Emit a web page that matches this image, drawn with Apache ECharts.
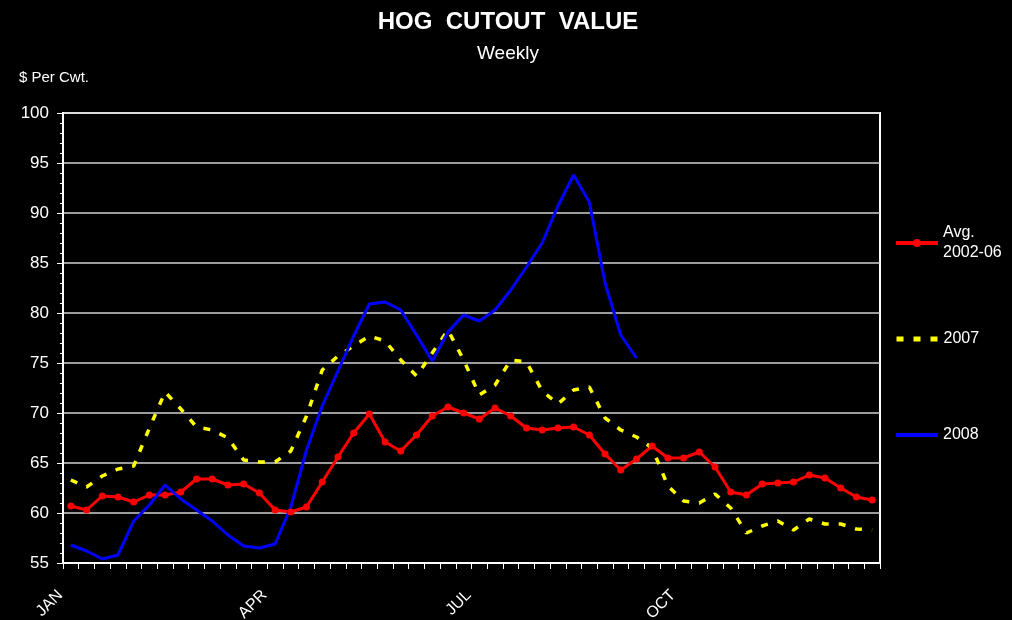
<!DOCTYPE html>
<html>
<head>
<meta charset="utf-8">
<script src="https://cdn.jsdelivr.net/npm/echarts@6/dist/echarts.min.js"></script>
<style>
  html, body { margin: 0; padding: 0; background: #000; }
  #hogChart { width: 1012px; height: 620px; }
</style>
</head>
<body>
<div id="hogChart"></div>
<script>
// month tick labels and the week they sit on
var monthLabels = ['JAN', 'APR', 'JUL', 'OCT'];
var monthWeeks = [1, 14, 27, 40];
var weekCount = 52;

// $ per cwt, weekly
var avg0206 = [60.7, 60.3, 61.7, 61.6, 61.1, 61.8, 61.8, 62.1, 63.4, 63.4,
               62.8, 62.9, 62.0, 60.3, 60.1, 60.6, 63.1, 65.6, 68.0, 69.9,
               67.1, 66.2, 67.8, 69.7, 70.6, 70.0, 69.4, 70.5, 69.7, 68.5,
               68.3, 68.5, 68.6, 67.8, 65.9, 64.3, 65.4, 66.7, 65.5, 65.5,
               66.1, 64.6, 62.1, 61.8, 62.9, 63.0, 63.1, 63.8, 63.5, 62.5,
               61.6, 61.3];
var y2007 = [63.3, 62.6, 63.7, 64.4, 64.7, 68.5, 72.1, 70.4, 68.6, 68.3,
             67.5, 65.3, 65.1, 65.1, 66.2, 69.7, 74.3, 75.7, 76.7, 77.7,
             77.2, 75.3, 73.7, 76.0, 78.3, 75.3, 71.8, 72.8, 75.3, 75.1,
             72.2, 70.9, 72.3, 72.6, 69.5, 68.3, 67.6, 66.5, 62.7, 61.2,
             61.0, 61.9, 60.5, 58.0, 58.7, 59.2, 58.3, 59.4, 58.9, 58.9,
             58.4, 58.3];
var y2008 = [56.8, 56.2, 55.4, 55.8, 59.2, 60.8, 62.8, 61.4, 60.3, 59.2,
             57.8, 56.7, 56.5, 56.9, 60.6, 66.3, 70.7, 74.2, 77.7, 80.9,
             81.1, 80.3, 77.8, 75.2, 78.1, 79.8, 79.2, 80.3, 82.3, 84.6,
             87.0, 90.7, 93.8, 91.1, 83.0, 77.8, 75.5];

var weeks = [];
for (var i = 1; i <= weekCount; i++) weeks.push(i);

var font = 'Liberation Sans, Arial, sans-serif';
var myChart = echarts.init(document.getElementById('hogChart'));

// legend symbol hidden for the plain lines
var noMarker = { color: 'rgba(0,0,0,0)', borderWidth: 0 };

var option = {
    backgroundColor: '#000',
    animation: false,
    title: [
        {
            text: 'HOG  CUTOUT  VALUE',
            left: 503, top: 5, textAlign: 'center',
            textStyle: { color: '#fff', fontSize: 24, fontWeight: 'bold', fontFamily: font }
        },
        {
            text: 'Weekly',
            left: 503, top: 39, textAlign: 'center',
            textStyle: { color: '#fff', fontSize: 19, fontWeight: 'normal', fontFamily: font }
        },
        {
            text: '$ Per Cwt.',
            left: 14, top: 65,
            textStyle: { color: '#fff', fontSize: 15, fontWeight: 'normal', fontFamily: font }
        }
    ],
    legend: [
        {
            data: ['Avg. 2002-06'],
            left: 894, top: 213, padding: 0,
            itemWidth: 42, itemHeight: 10,
            lineStyle: { width: 4 },
            formatter: function () { return 'Avg.\n2002-06'; },
            textStyle: { color: '#fff', fontSize: 16, fontFamily: font, lineHeight: 20, padding: [20, 0, 0, 0] }
        },
        {
            data: ['2007'],
            left: 894, top: 329, padding: 0,
            itemWidth: 42, itemHeight: 14,
            itemStyle: noMarker,
            lineStyle: { width: 5 },
            textStyle: { color: '#fff', fontSize: 16, fontFamily: font, lineHeight: 20 }
        },
        {
            data: ['2008'],
            left: 894, top: 425, padding: 0,
            itemWidth: 42, itemHeight: 14,
            itemStyle: noMarker,
            lineStyle: { width: 4 },
            textStyle: { color: '#fff', fontSize: 16, fontFamily: font, lineHeight: 20 }
        }
    ],
    grid: {
        left: 63, right: 132, top: 113, bottom: 57,
        outerBoundsMode: 'none',
        containLabel: false,
        show: true, borderColor: '#fff', borderWidth: 2
    },
    xAxis: {
        type: 'category',
        data: weeks,
        boundaryGap: true,
        axisLine: { lineStyle: { color: '#fff', width: 2 } },
        axisTick: { show: true, interval: 0, length: 6, lineStyle: { color: '#fff' } },
        axisLabel: {
            interval: 0,
            rotate: 45,
            margin: 19,
            padding: [0, 15, 0, 0],
            color: '#fff',
            fontSize: 16,
            fontFamily: font,
            formatter: function (v) {
                var k = monthWeeks.indexOf(Number(v));
                return k >= 0 ? monthLabels[k] : '';
            }
        },
        splitLine: { show: false }
    },
    yAxis: {
        type: 'value',
        min: 55, max: 100, interval: 5,
        axisLine: { show: true, lineStyle: { color: '#fff', width: 2 } },
        axisTick: { show: true, length: 6, lineStyle: { color: '#fff' } },
        minorTick: { show: true, splitNumber: 5, length: 3, lineStyle: { color: '#fff' } },
        axisLabel: { color: '#fff', fontSize: 17, fontFamily: font, margin: 14 },
        splitLine: { show: true, lineStyle: { color: '#d0d0d0', width: 1.5 } }
    },
    series: [
        {
            name: 'Avg. 2002-06',
            type: 'line',
            data: avg0206,
            symbol: 'circle',
            symbolSize: 7,
            itemStyle: { color: '#ff0000' },
            lineStyle: { color: '#ff0000', width: 3 }
        },
        {
            name: '2007',
            type: 'line',
            data: y2007,
            symbol: 'none',
            itemStyle: { color: '#ffff00' },
            lineStyle: { color: '#ffff00', width: 3.5, type: [7, 10] }
        },
        {
            name: '2008',
            type: 'line',
            data: y2008,
            symbol: 'none',
            itemStyle: { color: '#0000ff' },
            lineStyle: { color: '#0000ff', width: 3 }
        }
    ]
};

myChart.setOption(option);
</script>
</body>
</html>
